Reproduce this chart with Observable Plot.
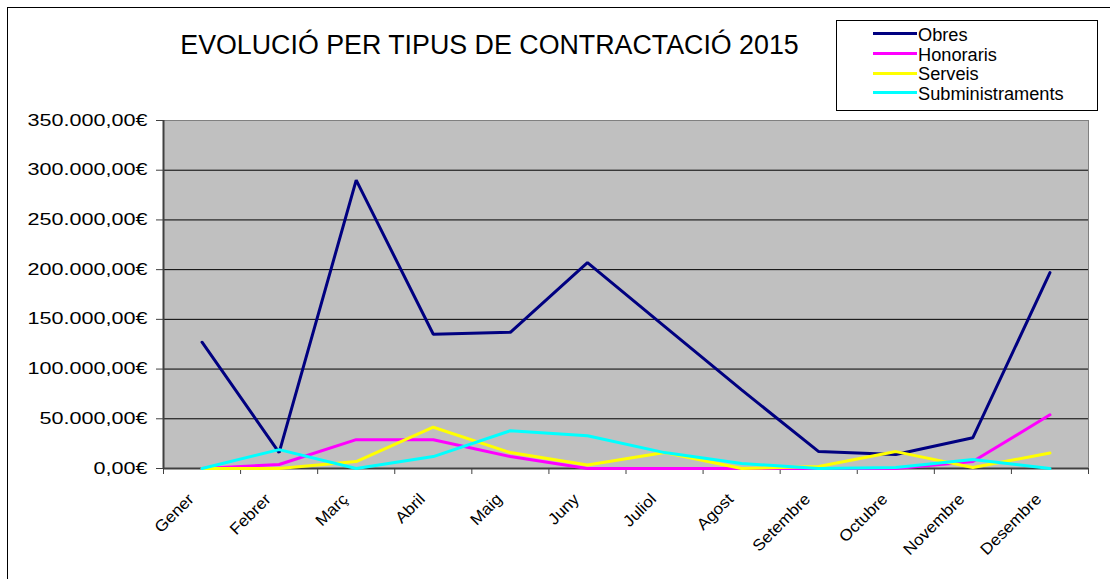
<!DOCTYPE html>
<html><head><meta charset="utf-8">
<script src="https://cdn.jsdelivr.net/npm/d3@7"></script>
<script src="https://cdn.jsdelivr.net/npm/@observablehq/plot@0.6"></script>
<style>
html,body{margin:0;padding:0;background:#fff;overflow:hidden;}
#wrap{position:relative;width:1110px;height:579px;font-family:"Liberation Sans",Arial,sans-serif;color:#000;}
#chart{position:absolute;left:0;top:0;}
#border{position:absolute;left:7px;top:7px;width:1300px;height:800px;border:1px solid #000;box-sizing:border-box;pointer-events:none;}
#title{position:absolute;left:0;top:32px;width:979px;text-align:center;font-size:26.8px;line-height:26.5px;white-space:nowrap;}
#legend{position:absolute;left:836px;top:20px;width:262px;height:91px;border:1px solid #000;box-sizing:border-box;background:#fff;padding-top:3px;}
.row{display:flex;align-items:center;height:19.7px;}
.sw{margin-left:36px;width:44px;height:3px;flex:none;}
.lb{margin-left:1px;font-size:17.5px;line-height:17.5px;display:inline-block;position:relative;top:1.8px;transform:scaleX(1.04);transform-origin:left center;white-space:nowrap;}
</style>
</head><body>
<div id="wrap">
  <div id="chart"></div>
  <div id="border"></div>
  <div id="title"></div>
  <div id="legend"></div>
</div>
<script>
const title = "EVOLUCIÓ PER TIPUS DE CONTRACTACIÓ 2015";
const months = ["Gener","Febrer","Març","Abril","Maig","Juny","Juliol","Agost","Setembre","Octubre","Novembre","Desembre"];
const seriesNames = ["Obres","Honoraris","Serveis","Subministraments"];
const seriesColors = ["#000080","#FF00FF","#FFFF00","#00FFFF"];
const obres = [127000, 16000, 290000, 135000, 137000, 207000, 143000, 79000, 17000, 14000, 31000, 197000];
const honoraris = [0, 4000, 29000, 29000, 12000, 0, 0, 0, 0, 0, 7000, 54000];
const serveis = [0, 0, 7000, 41500, 16000, 3500, 16000, 0, 2000, 17000, 1000, 15500];
const subministraments = [0, 19000, 0, 12000, 38000, 33000, 16000, 5000, 0, 1000, 9000, 0];
const yTicks = [0, 50000, 100000, 150000, 200000, 250000, 300000, 350000];

const seriesValues = [obres, honoraris, serveis, subministraments];
const rows = [];
seriesNames.forEach((s, k) => seriesValues[k].forEach((v, i) => rows.push({series: s, i, value: v})));

const fmtEuro = v => d3.format(",.2f")(v).replace(/,/g, "#").replace(".", ",").replace(/#/g, ".") + "€";
const xDomain = [-0.5, months.length - 0.5];
const boundaries = d3.range(months.length + 1).map(k => k - 0.5);

const chart = Plot.plot({
  width: 1110, height: 579,
  marginLeft: 163, marginRight: 22, marginTop: 120, marginBottom: 111,
  style: {background: "transparent", fontFamily: "'Liberation Sans', Arial, sans-serif", fontSize: "16px", color: "#000"},
  x: {type: "linear", domain: xDomain, axis: null},
  y: {domain: [yTicks[0], yTicks[yTicks.length - 1]], axis: null},
  color: {domain: seriesNames, range: seriesColors},
  marks: [
    Plot.frame({fill: "#C0C0C0", stroke: "#808080"}),
    Plot.ruleY(yTicks.slice(1, -1), {stroke: "#000", strokeWidth: 1}),
    Plot.axisY({ticks: yTicks, tickSize: 7, tickPadding: 9, tickFormat: fmtEuro, label: null, stroke: "#404040", fill: "#000"}),
    Plot.axisX({ticks: boundaries, tickSize: 6, tickFormat: () => "", label: null, stroke: "#404040"}),
    Plot.axisX({ticks: d3.range(months.length), tickSize: 0, tickPadding: 22, tickRotate: -45, tickFormat: i => months[i], label: null, fill: "#000", dx: -11, dy: 6}),
    Plot.ruleX([xDomain[0]], {stroke: "#404040", strokeWidth: 2}),
    Plot.ruleY([yTicks[0]], {stroke: "#404040", strokeWidth: 2}),
    Plot.line(rows, {x: "i", y: "value", z: "series", stroke: "series", strokeWidth: 3, strokeLinejoin: "miter"})
  ]
});
chart.querySelectorAll("text").forEach(t => {
  if (!t.textContent) { t.remove(); return; }
  const label = (t.parentNode.getAttribute("aria-label") || "");
  const s = label.startsWith("y-axis") ? 1.35 : 1.07;
  const tr = t.getAttribute("transform") || "";
  t.setAttribute("transform", (tr + ` scale(${s},1)`).trim());
});
document.getElementById("chart").appendChild(chart);
document.getElementById("title").textContent = title;

const legend = document.getElementById("legend");
seriesNames.forEach((s, k) => {
  const row = document.createElement("div");
  row.className = "row";
  const sw = document.createElement("div");
  sw.className = "sw";
  sw.style.background = seriesColors[k];
  const lb = document.createElement("span");
  lb.className = "lb";
  lb.textContent = s;
  row.appendChild(sw); row.appendChild(lb);
  legend.appendChild(row);
});
</script>
</body></html>
